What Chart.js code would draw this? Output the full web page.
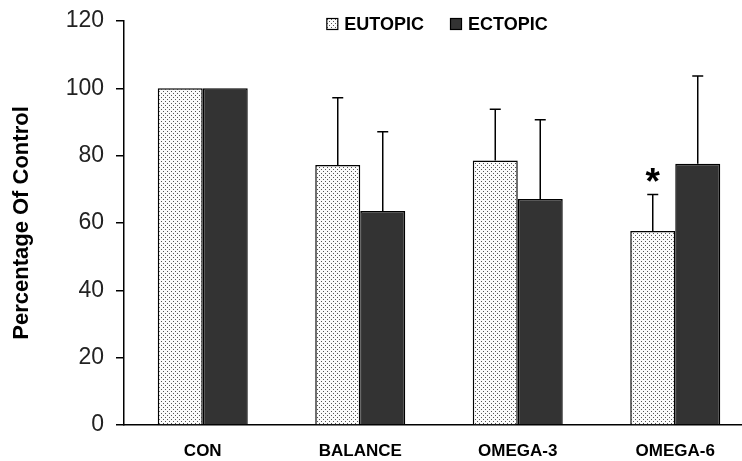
<!DOCTYPE html>
<html>
<head>
<meta charset="utf-8">
<script src="https://cdn.jsdelivr.net/npm/chart.js@4.4.1/dist/chart.umd.min.js"></script>
<style>
  html, body { margin: 0; padding: 0; background: #fff; overflow: hidden; }
  #wrap { width: 760px; height: 461px; }
</style>
</head>
<body>
<div id="wrap"><canvas id="c" width="760" height="461"></canvas></div>
<script>
// ---- data ----
const categories = ['CON', 'BALANCE', 'OMEGA-3', 'OMEGA-6'];
const seriesNames = ['EUTOPIC', 'ECTOPIC'];
const eutopic = [100, 77.2, 78.6, 57.6];
const eutopicErr = [0, 20.0, 15.2, 10.9];
const ectopic = [100, 63.6, 67.1, 77.6];
const ectopicErr = [0, 23.5, 23.6, 26.1];
const eutopicMarks = ['', '', '', '*'];
const ectopicMarks = ['', '', '', ''];
const yMin = 0, yMax = 120, yStep = 20;
const yTitle = 'Percentage Of Control';

// ---- dotted pattern ----
function makePattern() {
  const p = document.createElement('canvas');
  p.width = 4; p.height = 4;
  const g = p.getContext('2d');
  g.fillStyle = '#fbfbfb';
  g.fillRect(0, 0, 4, 4);
  g.fillStyle = '#555';
  g.fillRect(1, 1, 1, 1);
  g.fillRect(3, 3, 1, 1);
  return document.getElementById('c').getContext('2d').createPattern(p, 'repeat');
}
const dotPattern = makePattern();

const errorBars = {
  id: 'errorBars',
  afterDatasetsDraw(chart) {
    const ctx = chart.ctx;
    const ys = chart.scales.y;
    ctx.save();
    chart.data.datasets.forEach((ds, di) => {
      const meta = chart.getDatasetMeta(di);
      meta.data.forEach((el, i) => {
        const err = ds.errors[i];
        const v = ds.data[i];
        const top = ys.getPixelForValue(v + err);
        if (err > 0) {
          ctx.strokeStyle = '#000';
          ctx.lineWidth = 1.5;
          ctx.beginPath();
          ctx.moveTo(el.x, el.y);
          ctx.lineTo(el.x, top);
          ctx.moveTo(el.x - 5.5, top);
          ctx.lineTo(el.x + 5.5, top);
          ctx.stroke();
        }
        const mark = ds.marks[i];
        if (mark) {
          ctx.fillStyle = '#000';
          ctx.font = 'bold 37px "Liberation Sans", Arial, sans-serif';
          ctx.textAlign = 'center';
          ctx.textBaseline = 'alphabetic';
          ctx.fillText(mark, el.x, top + 0);
        }
      });
    });
    ctx.restore();
  }
};

const customLegend = {
  id: 'customLegend',
  afterDraw(chart) {
    const ctx = chart.ctx;
    const ca = chart.chartArea;
    ctx.save();
    ctx.font = 'bold 18px "Liberation Sans", Arial, sans-serif';
    const box = 12, gap = 6, itemGap = 26;
    const items = chart.data.datasets.map(ds => ({
      label: ds.label, fill: ds.backgroundColor, w: box + gap + ctx.measureText(ds.label).width
    }));
    const total = items.reduce((s, it) => s + it.w, 0) + itemGap * (items.length - 1);
    let x = (ca.left + ca.right) / 2 - 2 - total / 2;
    const cy = 24;
    items.forEach(it => {
      ctx.fillStyle = it.fill;
      ctx.fillRect(x, cy - box / 2, box, box);
      ctx.strokeStyle = '#000';
      ctx.lineWidth = 1.2;
      ctx.strokeRect(x + 0.5, cy - box / 2 + 0.5, box - 1, box - 1);
      ctx.fillStyle = '#000';
      ctx.textAlign = 'left';
      ctx.textBaseline = 'middle';
      ctx.fillText(it.label, x + box + gap, cy + 1);
      x += it.w + itemGap;
    });
    ctx.restore();
  }
};

new Chart(document.getElementById('c'), {
  type: 'bar',
  data: {
    labels: categories,
    datasets: [
      { label: seriesNames[0], data: eutopic, errors: eutopicErr, marks: eutopicMarks,
        backgroundColor: dotPattern, borderColor: '#000', borderWidth: 1.5 },
      { label: seriesNames[1], data: ectopic, errors: ectopicErr, marks: ectopicMarks,
        backgroundColor: '#333333', borderColor: '#000', borderWidth: 1.5 }
    ]
  },
  options: {
    responsive: false,
    animation: false,
    devicePixelRatio: 1,
    layout: { padding: { left: 0, right: 6, top: 21, bottom: 0 } },
    datasets: { bar: { categoryPercentage: 0.5714, barPercentage: 1.0 } },
    plugins: { legend: { display: false }, tooltip: { enabled: false } },
    scales: {
      x: {
        afterFit(scale) { scale.height = 36; },
        grid: { display: false, drawTicks: false },
        border: { display: true, color: '#000', width: 1.5 },
        ticks: { color: '#000', padding: 16, font: { family: '"Liberation Sans", Arial, sans-serif', size: 17, weight: 'bold' } }
      },
      y: {
        min: yMin, max: yMax,
        afterFit(scale) { scale.width = 124; scale.paddingTop = 0; scale.paddingBottom = 0; },
        grid: { display: true, drawOnChartArea: false, drawTicks: true, tickLength: 8, color: '#000', lineWidth: 1.5 },
        border: { display: true, color: '#000', width: 1.5 },
        ticks: { stepSize: yStep, color: '#222', padding: 12, font: { family: '"Liberation Sans", Arial, sans-serif', size: 23 } },
        title: { display: true, text: yTitle, color: '#000', padding: { top: 9, bottom: 0 },
          font: { family: '"Liberation Sans", Arial, sans-serif', size: 22, weight: 'bold' } }
      }
    }
  },
  plugins: [errorBars, customLegend]
});
</script>
</body>
</html>
